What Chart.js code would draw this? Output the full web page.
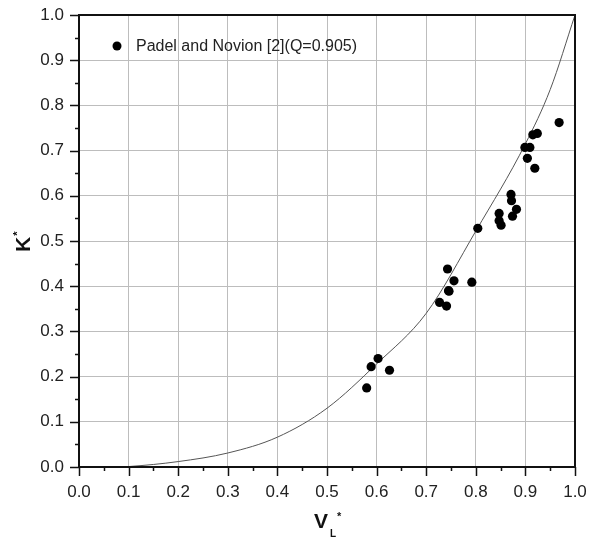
<!DOCTYPE html>
<html>
<head>
<meta charset="utf-8">
<script src="https://cdn.jsdelivr.net/npm/chart.js@4.4.1/dist/chart.umd.min.js"></script>
<style>
  html, body { margin: 0; padding: 0; background: #fff; }
  #wrap { width: 590px; height: 540px; position: relative; }
</style>
</head>
<body>
<div id="wrap"><canvas id="chart"></canvas></div>
<script>
'use strict';

// ── DATA ──
const measX = [0.580, 0.589, 0.603, 0.626, 0.727, 0.741, 0.745, 0.743, 0.756, 0.792,
               0.746, 0.804, 0.847, 0.847, 0.851, 0.871, 0.872, 0.882, 0.874, 0.899,
               0.909, 0.904, 0.919, 0.915, 0.924, 0.968];
const measY = [0.175, 0.222, 0.240, 0.214, 0.364, 0.356, 0.390, 0.438, 0.412, 0.409,
               0.389, 0.528, 0.561, 0.545, 0.535, 0.603, 0.589, 0.570, 0.555, 0.707,
               0.707, 0.683, 0.661, 0.735, 0.738, 0.762];

const curveX = [0.076, 0.10, 0.20, 0.30, 0.40, 0.50, 0.60, 0.70, 0.80, 0.90, 0.95, 1.00];
const curveY = [0.000, 0.001, 0.012, 0.031, 0.066, 0.130, 0.228, 0.340, 0.522, 0.715, 0.835, 1.000];

const legendLabel = 'Padel and Novion [2](Q=0.905)';
const axisMin = 0, axisMax = 1, majorStep = 0.1, minorStep = 0.05;

const FONT = "'Liberation Sans', Arial, sans-serif";
const INK = '#222';

// ── FRAME, TICKS, TITLES, LEGEND ──
const framePlugin = {
  id: 'frame',
  afterDraw(chart) {
    const { ctx, chartArea: a, scales } = chart;
    ctx.save();
    ctx.strokeStyle = '#111';
    ctx.lineWidth = 2;
    ctx.strokeRect(a.left, a.top, a.right - a.left, a.bottom - a.top);

    // outward ticks, major + minor
    ctx.lineWidth = 1.5;
    ctx.beginPath();
    const n = Math.round((axisMax - axisMin) / minorStep);
    for (let i = 0; i <= n; i++) {
      const v = axisMin + i * minorStep;
      const len = i % 2 === 0 ? 9 : 4;
      const px = Math.round(scales.x.getPixelForValue(v)) + 0.5;
      ctx.moveTo(px, a.bottom); ctx.lineTo(px, a.bottom + len);
      const py = Math.round(scales.y.getPixelForValue(v)) + 0.5;
      ctx.moveTo(a.left, py); ctx.lineTo(a.left - len, py);
    }
    ctx.stroke();

    // axis titles
    ctx.fillStyle = '#111';
    ctx.textBaseline = 'alphabetic';
    // x: V_L*
    ctx.font = 'bold 21px ' + FONT;
    ctx.textAlign = 'left';
    const vx = 314, vy = 528;
    ctx.fillText('V', vx, vy);
    const vw = ctx.measureText('V').width;
    ctx.font = 'bold 10px ' + FONT;
    ctx.fillText('L', vx + vw + 2, vy + 9);
    ctx.font = 'bold 11px ' + FONT;
    ctx.fillText('*', vx + vw + 9, vy - 8);

    // y: K*
    ctx.save();
    ctx.translate(30, 252);
    ctx.rotate(-Math.PI / 2);
    ctx.font = 'bold 21px ' + FONT;
    ctx.textAlign = 'left';
    ctx.fillText('K', 0, 0);
    const kw = ctx.measureText('K').width;
    ctx.font = 'bold 11px ' + FONT;
    ctx.fillText('*', kw + 1, -9);
    ctx.restore();

    // legend
    ctx.fillStyle = '#000';
    ctx.beginPath();
    ctx.arc(117, 46, 4.5, 0, Math.PI * 2);
    ctx.fill();
    ctx.fillStyle = INK;
    ctx.font = '16px ' + FONT;
    ctx.textBaseline = 'middle';
    ctx.fillText(legendLabel, 136, 47);
    ctx.restore();
  }
};

const tickFont = { family: FONT, size: 17 };

new Chart(document.getElementById('chart'), {
  type: 'scatter',
  data: {
    datasets: [
      { label: 'curve', data: curveX.map((x, i) => ({ x, y: curveY[i] })),
        showLine: true, borderColor: '#555', borderWidth: 1, pointRadius: 0,
        cubicInterpolationMode: 'monotone', order: 2 },
      { label: legendLabel, data: measX.map((x, i) => ({ x, y: measY[i] })),
        backgroundColor: '#000', borderColor: '#000', borderWidth: 0, pointRadius: 4.6, order: 1 }
    ]
  },
  options: {
    responsive: true,
    maintainAspectRatio: false,
    animation: false,
    layout: { padding: { left: 0, top: 15, right: 15, bottom: 0 } },
    plugins: { legend: { display: false }, tooltip: { enabled: false } },
    scales: {
      x: {
        type: 'linear', min: axisMin, max: axisMax,
        ticks: { stepSize: majorStep, color: INK, font: tickFont, padding: 15,
                 maxRotation: 0, callback: v => v.toFixed(1) },
        grid: { color: '#bdbdbd', lineWidth: 1, drawTicks: false },
        border: { display: false },
        afterFit: s => { s.height = 73; s.paddingLeft = 0; s.paddingRight = 0; }
      },
      y: {
        type: 'linear', min: axisMin, max: axisMax,
        ticks: { stepSize: majorStep, color: INK, font: tickFont, padding: 15,
                 callback: v => v.toFixed(1) },
        grid: { color: '#bdbdbd', lineWidth: 1, drawTicks: false },
        border: { display: false },
        afterFit: s => { s.width = 79; s.paddingTop = 0; s.paddingBottom = 0; }
      }
    }
  },
  plugins: [framePlugin]
});
</script>
</body>
</html>
